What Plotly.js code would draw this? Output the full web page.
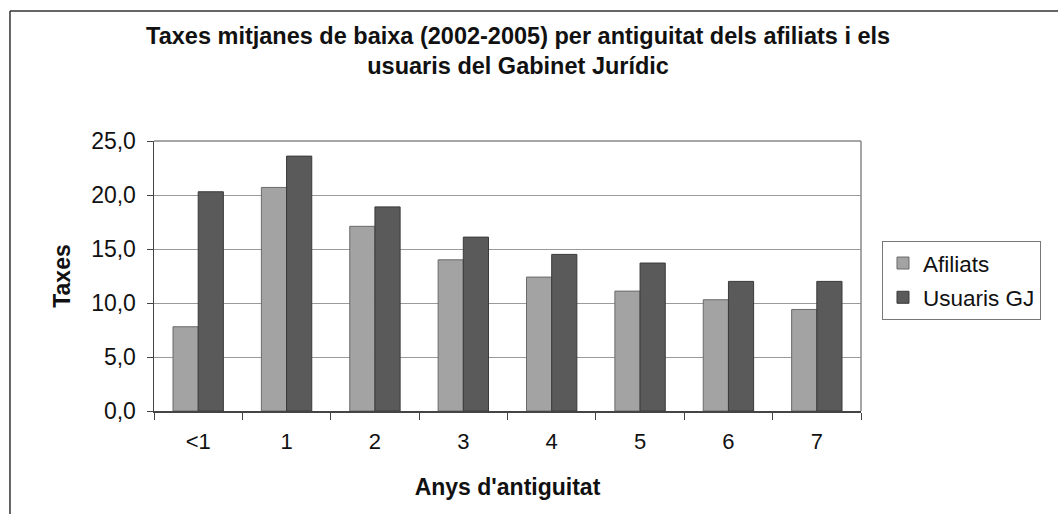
<!DOCTYPE html>
<html>
<head>
<meta charset="utf-8">
<script src="https://cdn.plot.ly/plotly-3.0.1.min.js"></script>
<style>html,body{margin:0;padding:0;background:#fff;}#chart{width:1058px;height:514px;}</style>
</head>
<body>
<div id="chart"></div>
<script>
const categories = ["<1", "1", "2", "3", "4", "5", "6", "7"];
const afiliats = [7.8, 20.7, 17.1, 14.0, 12.4, 11.1, 10.3, 9.4];
const usuarisGJ = [20.3, 23.6, 18.9, 16.1, 14.5, 13.7, 12.0, 12.0];
const seriesNames = ["Afiliats", "Usuaris GJ"];
const yTicks = [0, 5, 10, 15, 20, 25];

const fontFam = "Liberation Sans, Arial, sans-serif";
const traces = [
  {type: "bar", name: seriesNames[0], x: categories, y: afiliats, legendgroup: "a",
   marker: {color: "#a3a3a3", line: {color: "#6a6a6a", width: 1}}},
  {type: "bar", name: seriesNames[1], x: categories, y: usuarisGJ, legendgroup: "b",
   marker: {color: "#5a5a5a", line: {color: "#3a3a3a", width: 1}}}
];

const layout = {
  width: 1058, height: 514,
  margin: {l: 154, r: 197, t: 141, b: 103},
  paper_bgcolor: "#ffffff", plot_bgcolor: "#ffffff",
  separators: ", ",
  barmode: "group", bargap: 0.43, bargroupgap: 0,
  font: {family: fontFam, size: 22, color: "#111111"},
  title: {text: "<b>Taxes mitjanes de baixa (2002-2005) per antiguitat dels afiliats i els<br>usuaris del Gabinet Jurídic</b>",
          x: 0.515, xref: "paper", xanchor: "center", y: 0.915, yref: "container", yanchor: "top",
          font: {family: fontFam, size: 23.5, color: "#111111"}},
  xaxis: {
    type: "category", ticks: "outside", tickson: "boundaries", ticklen: 7, tickcolor: "#444",
    showline: true, linecolor: "#444", linewidth: 1.5, showgrid: false,
    tickfont: {size: 22}, ticklabelstandoff: 10,
    title: {text: "<b>Anys d'antiguitat</b>", font: {size: 23}, standoff: 26}
  },
  yaxis: {
    range: [0, 25], tickvals: yTicks, tickformat: ".1f", ticks: "outside", ticklen: 6, tickcolor: "#444",
    showline: true, linecolor: "#444", linewidth: 1.5,
    showgrid: true, gridcolor: "#9a9a9a", gridwidth: 1, zeroline: false,
    tickfont: {size: 23}, ticklabelstandoff: 6,
    title: {text: "<b>Taxes</b>", font: {size: 23}, standoff: 14}
  },
  legend: {
    x: 1.0297, xanchor: "left", y: 0.63, yanchor: "top",
    bordercolor: "#777777", borderwidth: 1, bgcolor: "#ffffff",
    font: {size: 22.5}, tracegroupgap: 2, itemwidth: 30
  },
  shapes: [
    {type: "line", xref: "paper", yref: "paper", x0: 0, x1: 1, y0: 1, y1: 1, line: {color: "#888888", width: 1.5}},
    {type: "line", xref: "paper", yref: "paper", x0: 1, x1: 1, y0: 0, y1: 1, line: {color: "#888888", width: 1.5}},
    {type: "line", xref: "paper", yref: "paper", x0: -0.2037, x1: 1.3, y0: 1.4815, y1: 1.4815, line: {color: "#333333", width: 1.5}},
    {type: "line", xref: "paper", yref: "paper", x0: -0.2037, x1: -0.2037, y0: -0.4, y1: 1.4815, line: {color: "#333333", width: 1.5}}
  ],
  showlegend: true
};

Plotly.newPlot("chart", traces, layout, {staticPlot: true, displayModeBar: false});
</script>
</body>
</html>
